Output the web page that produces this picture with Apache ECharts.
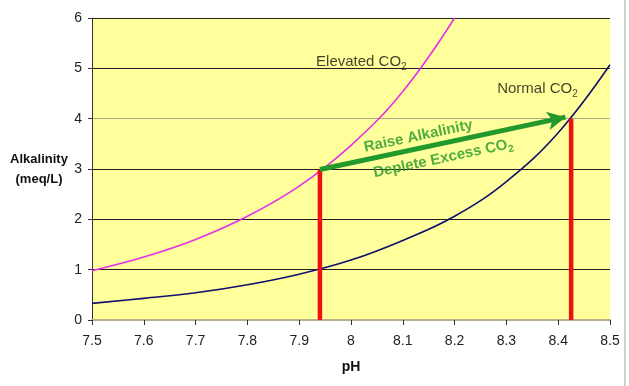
<!DOCTYPE html>
<html><head><meta charset="utf-8">
<script src="https://cdn.jsdelivr.net/npm/echarts@6/dist/echarts.min.js"></script>
<style>html,body{margin:0;padding:0;background:#fff;}#c{width:629px;height:386px;}</style>
</head><body><div id="c"></div>
<script>
const xTicks = [7.5, 7.6, 7.7, 7.8, 7.9, 8, 8.1, 8.2, 8.3, 8.4, 8.5];
const yTicks = [0, 1, 2, 3, 4, 5, 6];
const elevatedPH = [7.5, 7.6, 7.7, 7.8, 7.9, 8.0, 8.1, 8.2];
const elevatedAlk = [0.98, 1.25, 1.6, 2.06, 2.66, 3.47, 4.54, 6.0];
const normalPH = [7.5, 7.6, 7.7, 7.8, 7.9, 8.0, 8.1, 8.2, 8.3, 8.4, 8.5];
const normalAlk = [0.33, 0.43, 0.54, 0.70, 0.91, 1.19, 1.58, 2.06, 2.75, 3.72, 5.07];
const startPoint = [7.94, 2.99];
const endPoint = [8.425, 4.0];
const arrowTip = [8.414, 4.03];

const chart = echarts.init(document.getElementById('c'));
const font = 'Liberation Sans, Arial, sans-serif';
const co2Rich = {
  b: { fontSize: 15, fontFamily: font, color: '#111', lineHeight: 20, verticalAlign: 'middle' },
  s: { fontSize: 10, fontFamily: font, color: '#111', lineHeight: 20, verticalAlign: 'bottom' }
};
const greenRich = {
  g: { fontSize: 15, fontWeight: 'bold', fontFamily: font, color: '#23992b', lineHeight: 20, verticalAlign: 'middle' },
  gs: { fontSize: 10, fontWeight: 'bold', fontFamily: font, color: '#23992b', lineHeight: 20, verticalAlign: 'bottom' }
};

chart.setOption({
  animation: false,
  backgroundColor: '#fff',
  grid: { left: 92, right: 19, top: 18, bottom: 66, show: true, backgroundColor: '#ffff9c', borderWidth: 0 },
  xAxis: {
    type: 'value', min: 7.5, max: 8.5, interval: 0.1,
    name: 'pH', nameLocation: 'middle', nameGap: 40,
    nameTextStyle: { fontSize: 14, fontWeight: 'bold', fontFamily: font, color: '#111' },
    axisLine: { show: true, onZero: false, lineStyle: { color: '#b8b08a', width: 2 } },
    axisTick: { show: true, length: 5, inside: false, lineStyle: { color: '#333' } },
    axisLabel: { fontSize: 14, fontFamily: font, color: '#222', margin: 14,
      formatter: v => { const r = Math.round(v * 10) / 10; return xTicks.indexOf(r) >= 0 ? String(r) : ''; } },
    splitLine: { show: false }
  },
  yAxis: {
    type: 'value', min: 0, max: 6, interval: 1,
    name: 'Alkalinity\n(meq/L)', nameLocation: 'middle', nameGap: 53, nameRotate: 0,
    nameTextStyle: { fontSize: 13, fontWeight: 'bold', fontFamily: font, color: '#111', lineHeight: 20, align: 'center' },
    axisLine: { show: true, lineStyle: { color: '#333', width: 1 } },
    axisTick: { show: true, length: 4, lineStyle: { color: '#333' } },
    axisLabel: { fontSize: 14, fontFamily: font, color: '#222', margin: 10,
      formatter: v => yTicks.indexOf(v) >= 0 ? String(v) : '' },
    splitLine: { show: true, lineStyle: { color: ['#b8b08a', '#222', '#222', '#222', '#aaa890', '#222', '#222'], width: 1 } }
  },
  series: [
    { type: 'line', data: elevatedPH.map((x, i) => [x, elevatedAlk[i]]), smooth: 0.4, showSymbol: false, symbol: 'none',
      lineStyle: { color: '#e82ee8', width: 1.6 }, clip: true, z: 3 },
    { type: 'line', data: normalPH.map((x, i) => [x, normalAlk[i]]), smooth: 0.4, showSymbol: false, symbol: 'none',
      lineStyle: { color: '#10106e', width: 1.6 }, clip: true, z: 3 },
    { type: 'line', data: [[startPoint[0], 0], startPoint], symbol: 'none', lineStyle: { color: '#ee1111', width: 4.5 }, z: 4 },
    { type: 'line', data: [[endPoint[0], 0], endPoint], symbol: 'none', lineStyle: { color: '#ee1111', width: 4.5 }, z: 4 },
    { type: 'line', data: [], z: 5,
      markLine: { silent: true, symbol: ['none', 'arrow'], symbolSize: [14, 18], label: { show: false },
        lineStyle: { color: '#23992b', width: 5, type: 'solid' },
        data: [[{ coord: startPoint }, { coord: arrowTip }]] } },
    { type: 'scatter', symbolSize: 0, z: 6,
      data: [
        { value: [8.02, 5.12], label: { formatter: '{b|Elevated CO}{s|2}', rich: co2Rich } },
        { value: [8.36, 4.59], label: { formatter: '{b|Normal CO}{s|2}', rich: co2Rich } },
        { value: [8.13, 3.65], label: { formatter: '{g|Raise Alkalinity}', rich: greenRich, rotate: 12 } },
        { value: [8.178, 3.21], label: { formatter: '{g|Deplete Excess CO}{gs|2}', rich: greenRich, rotate: 12 } }
      ],
      label: { show: true, position: 'inside' } }
  ],
  graphic: [
    { type: 'rect', shape: { x: 624, y: 0, width: 2, height: 386 }, style: { fill: '#d0d0d0' } }
  ]
});
</script></body></html>
